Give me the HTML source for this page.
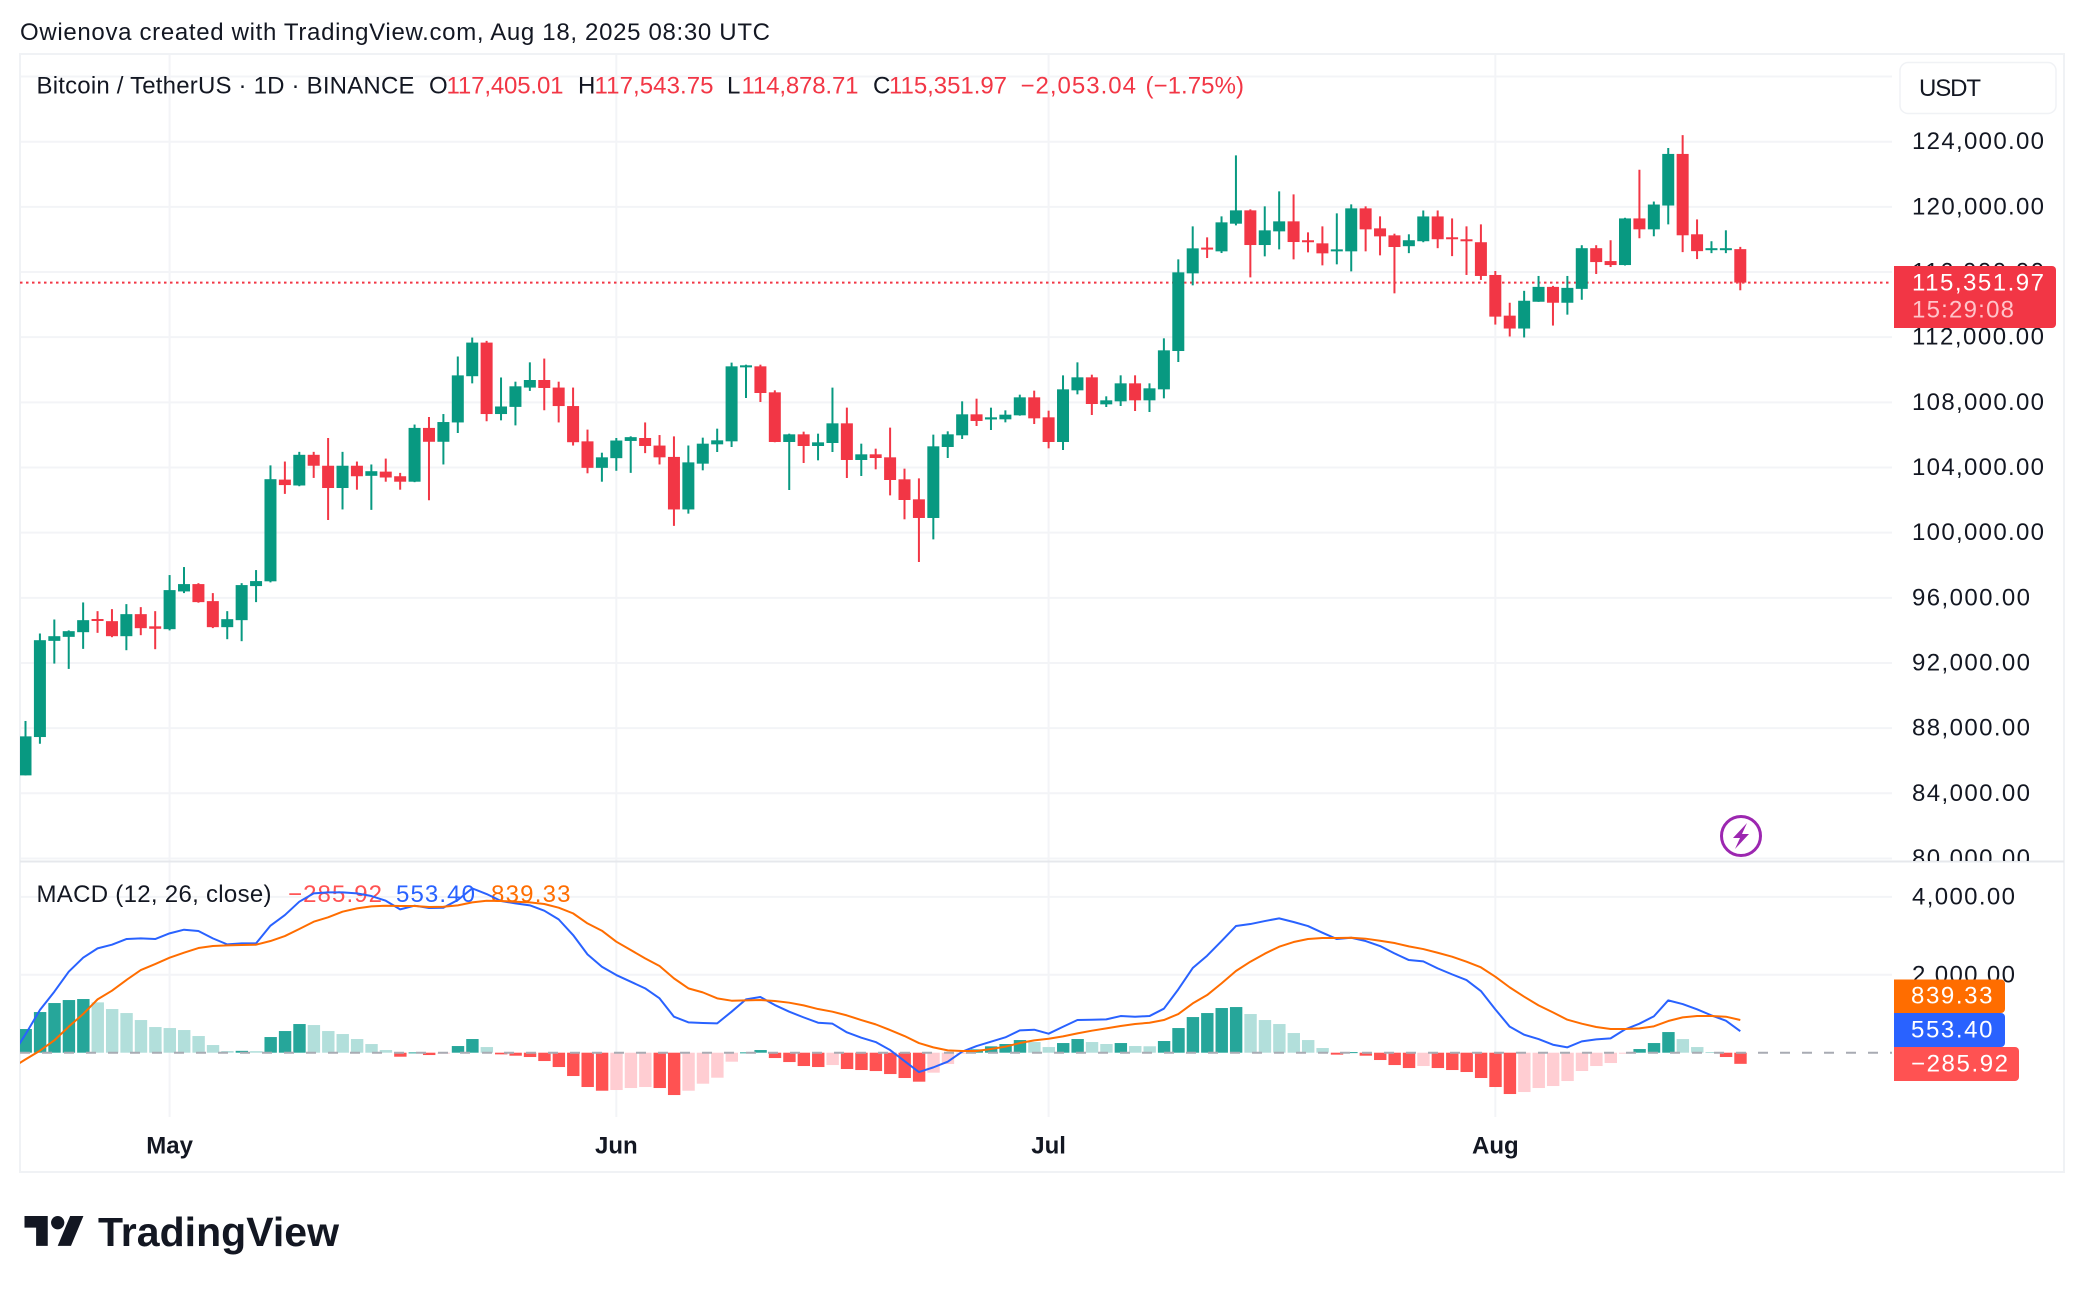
<!DOCTYPE html>
<html lang="en">
<head>
<meta charset="utf-8">
<title>Bitcoin / TetherUS chart</title>
<style>
html,body{margin:0;padding:0;background:#fff;}
body{width:2084px;height:1292px;overflow:hidden;}
svg{display:block;}
text{font-family:"Liberation Sans",sans-serif;font-size:24px;fill:#131722;}
</style>
</head>
<body>
<svg id="chart" xmlns="http://www.w3.org/2000/svg" width="2084" height="1292" viewBox="0 0 2084 1292">
  <defs>
    <clipPath id="plot-clip"><rect x="20" y="54" width="1872" height="807"></rect></clipPath>
    <clipPath id="macd-clip"><rect x="20" y="862" width="1872" height="255"></rect></clipPath>
    <clipPath id="axis-clip"><rect x="1893" y="54" width="171" height="807"></rect></clipPath>
  </defs>
  <rect x="0" y="0" width="2084" height="1292" fill="#ffffff"></rect>
  <text x="20" y="40" textLength="750" lengthAdjust="spacing">Owienova created with TradingView.com, Aug 18, 2025 08:30 UTC</text>

  <g id="grid"></g>
  <rect x="20" y="54" width="2044" height="1118" fill="none" stroke="#f0f2f5" stroke-width="2"></rect>
  <line x1="20" y1="861.5" x2="2064" y2="861.5" stroke="#e6e8ec" stroke-width="2"></line>

  <g id="macd-hist" clip-path="url(#macd-clip)"></g>
  <line id="zero-line" x1="20" x2="1892" stroke="#a8abb3" stroke-width="2" stroke-dasharray="10 12"></line>

  <g>
    <text x="36.5" y="902" textLength="235" lengthAdjust="spacing">MACD (12, 26, close)</text>
    <text x="288" y="902" textLength="94" lengthAdjust="spacing" style="fill:#FF5252">−285.92</text>
    <text x="396" y="902" textLength="79" lengthAdjust="spacing" style="fill:#2962FF">553.40</text>
    <text x="491" y="902" textLength="79.5" lengthAdjust="spacing" style="fill:#FF6D00">839.33</text>
  </g>

  <g id="macd-lines" clip-path="url(#macd-clip)"></g>

  <line id="price-line" x1="20" x2="1890" stroke="#F23645" stroke-width="2" stroke-dasharray="2.5 3.5"></line>
  <g id="candles" clip-path="url(#plot-clip)"></g>

  <g>
    <text x="36.5" y="93.5" textLength="378" lengthAdjust="spacing">Bitcoin / TetherUS · 1D · BINANCE</text>
    <text x="429" y="93.5">O</text>
    <text x="446.5" y="93.5" textLength="117" lengthAdjust="spacing" style="fill:#F23645">117,405.01</text>
    <text x="578" y="93.5">H</text>
    <text x="594.5" y="93.5" textLength="119" lengthAdjust="spacing" style="fill:#F23645">117,543.75</text>
    <text x="727" y="93.5">L</text>
    <text x="741.5" y="93.5" textLength="117" lengthAdjust="spacing" style="fill:#F23645">114,878.71</text>
    <text x="873" y="93.5">C</text>
    <text x="889" y="93.5" textLength="118" lengthAdjust="spacing" style="fill:#F23645">115,351.97</text>
    <text x="1020.5" y="93.5" textLength="115.5" lengthAdjust="spacing" style="fill:#F23645">−2,053.04</text>
    <text x="1145.5" y="93.5" textLength="98.5" lengthAdjust="spacing" style="fill:#F23645">(−1.75%)</text>
  </g>

  <g id="price-axis" clip-path="url(#axis-clip)"></g>
  <g id="macd-axis"></g>
  <g id="time-axis"></g>

  <g>
    <rect x="1900" y="62.5" width="156" height="51" rx="8" fill="#ffffff" stroke="#f0f2f5" stroke-width="1.5"></rect>
    <text x="1919" y="96" textLength="62" lengthAdjust="spacing">USDT</text>
  </g>

  <g>
    <path d="M1894 266H2052a4 4 0 0 1 4 4V324a4 4 0 0 1 -4 4H1894Z" fill="#F23645"></path>
    <text x="1912" y="290.5" textLength="132" lengthAdjust="spacing" style="fill:#ffffff">115,351.97</text>
    <text x="1912" y="317.5" textLength="102" lengthAdjust="spacing" style="fill:#ffc4ca">15:29:08</text>
  </g>

  <g>
    <path d="M1894 979.5H2001a4 4 0 0 1 4 4V1009a4 4 0 0 1 -4 4H1894Z" fill="#FF6D00"></path>
    <text x="1911" y="1003.5" textLength="81.5" lengthAdjust="spacing" style="fill:#ffffff">839.33</text>
    <path d="M1894 1013H2001a4 4 0 0 1 4 4V1043a4 4 0 0 1 -4 4H1894Z" fill="#2962FF"></path>
    <text x="1911" y="1037.5" textLength="81.5" lengthAdjust="spacing" style="fill:#ffffff">553.40</text>
    <path d="M1894 1047H2015a4 4 0 0 1 4 4V1077a4 4 0 0 1 -4 4H1894Z" fill="#FF5252"></path>
    <text x="1911" y="1071.5" textLength="97" lengthAdjust="spacing" style="fill:#ffffff">−285.92</text>
  </g>

  <g>
    <circle cx="1741" cy="836" r="19.5" fill="#ffffff" stroke="#9C27B0" stroke-width="3"></circle>
    <path d="M1747 823L1733 838H1740L1735 849L1749 834H1742Z" fill="#9C27B0"></path>
  </g>

  <g>
    <g transform="translate(24.5 1209.4) scale(1.66)" fill="#131722">
      <path d="M14 22H7V11H0V4h14v18zM28 22h-8l7.5-18h8L28 22z"></path>
      <circle cx="20" cy="8" r="4"></circle>
    </g>
    <text x="98" y="1246" textLength="241" lengthAdjust="spacing" style="font-size:41px;font-weight:bold">TradingView</text>
  </g>
</svg>

<script>
const categories = ['04-20','04-21','04-22','04-23','04-24','04-25','04-26','04-27','04-28','04-29','04-30',
'05-01','05-02','05-03','05-04','05-05','05-06','05-07','05-08','05-09','05-10','05-11','05-12','05-13','05-14','05-15','05-16','05-17','05-18','05-19','05-20','05-21','05-22','05-23','05-24','05-25','05-26','05-27','05-28','05-29','05-30','05-31',
'06-01','06-02','06-03','06-04','06-05','06-06','06-07','06-08','06-09','06-10','06-11','06-12','06-13','06-14','06-15','06-16','06-17','06-18','06-19','06-20','06-21','06-22','06-23','06-24','06-25','06-26','06-27','06-28','06-29','06-30',
'07-01','07-02','07-03','07-04','07-05','07-06','07-07','07-08','07-09','07-10','07-11','07-12','07-13','07-14','07-15','07-16','07-17','07-18','07-19','07-20','07-21','07-22','07-23','07-24','07-25','07-26','07-27','07-28','07-29','07-30','07-31',
'08-01','08-02','08-03','08-04','08-05','08-06','08-07','08-08','08-09','08-10','08-11','08-12','08-13','08-14','08-15','08-16','08-17','08-18'];

const openValues = [84480,
85100,87454,93358,93604,93891,94700,94568,93645,94998,94250,
94076,96392,96843,95798,94199,94629,96720,97013,103257,102896,
104779,104108,102741,104108,103489,103747,103463,103128,106430,105579,
106766,109604,111668,107282,107720,108907,109371,108907,107772,105605,
103979,104573,105630,105811,105347,104650,101425,104236,105422,105606,
110148,110210,108614,105566,106036,105320,105504,106711,104461,104809,
104624,103274,102046,100901,105259,105975,107264,106950,106957,107203,
108307,107080,105566,108737,109535,107877,108061,109166,108123,108798,
111151,115918,117500,117269,118967,119785,117657,118496,119110,117950,
117760,117269,117269,119908,118680,118251,117585,117890,119412,118133,
118010,117829,115819,113322,112531,114175,115088,114114,114966,117463,
116672,116428,119290,118620,120082,123249,118316,117342,117360,117405.01];

const highValues = [85300,
88440,93809,94670,94000,95716,95182,95306,95613,95429,95182,
97397,97889,96900,96290,95182,96900,97704,104134,104366,104960,
104960,105811,104960,104366,104186,104547,103670,106637,107101,107282,
110816,111977,111771,109526,109268,110455,110687,109268,108907,106327,
104908,105811,105914,106766,105992,105914,105347,105832,106384,110435,
110312,110312,108737,106077,106200,106077,108901,107673,105463,105156,
106445,103929,103335,106016,106220,108062,108225,107673,107509,108471,
108717,107489,109658,110455,109698,108369,109658,109658,109166,111929,
116778,118803,118128,119417,123161,119847,120031,120951,120767,118435,
118803,119601,120154,120031,119417,118353,118316,119778,119778,119290,
118803,118925,116063,114114,114845,115758,115149,115758,117646,117646,
117951,119330,122275,120326,123614,124406,119229,117890,118560,117543.75];

const lowValues = [83950,
85097,87044,91964,91636,92866,93850,93583,92784,93707,92846,
94000,96290,95700,94140,93460,93338,95736,96950,102380,102850,
103360,100780,101425,102638,101399,103128,102638,103100,101993,104186,
106121,109165,106843,106895,106585,108701,107514,106766,105347,103644,
103128,103799,103670,104882,104186,100419,101167,103826,104952,105259,
108266,108021,105550,102619,104277,104440,104952,103356,103479,103888,
102292,100819,98200,99591,104583,105750,106548,106302,106772,107180,
106670,105177,105075,108491,107223,107714,107775,107468,107407,108246,
110476,115182,116859,117166,118865,115673,116962,117391,116778,117207,
116409,116471,116041,117269,117023,114691,117159,117829,117463,116976,
115819,115515,112774,112043,111982,114170,112713,113383,114297,115880,
116306,116400,118072,118194,118925,117220,116794,117159,117159,114878.71];

const closeValues = [85180,
87495,93399,93645,93953,94629,94600,93645,94998,94137,94100,
96474,96843,95736,94199,94690,96782,97028,103283,102921,104779,
104108,102741,104108,103463,103773,103386,103128,106430,105579,106791,
109655,111668,107282,107746,108984,109371,108881,107772,105553,103979,
104624,105656,105863,105321,104624,101425,104315,105463,105668,110210,
110272,108573,105566,106036,105320,105545,106711,104461,104809,104583,
103233,102005,100901,105300,106036,107264,106855,107080,107243,108307,
107018,105566,108798,109535,107898,108123,109166,108123,108860,111192,
115980,117453,117380,119049,119785,117657,118558,119110,117841,117830,
117146,117391,119908,118619,118189,117535,117951,119412,118012,118032,
117910,115758,113261,112531,114236,115088,114114,115027,117463,116611,
116428,119290,118620,120143,123249,118255,117281,117463,117463,115351.97];

const histValues = [330,
608,1044,1275,1352,1378,1292,1121,1018,839,659,
633,582,428,197,43,48,40,402,556,736,
710,556,479,351,222,68,-103,8,-60,-20,
171,351,145,-43,-77,-111,-214,-368,-599,-881,
-976,-958,-907,-881,-907,-1087,-976,-796,-642,-231,
9,68,-137,-240,-342,-368,-317,-419,-445,-471,
-548,-650,-744,-513,-291,-25,86,163,223,325,
274,145,248,351,274,223,248,171,165,300,
633,915,1018,1147,1172,993,839,736,505,325,
120,-50,15,-77,-188,-317,-394,-342,-394,-445,
-496,-650,-881,-1061,-1010,-907,-856,-727,-470,-342,
-265,-25,94,248,530,350,145,17,-111,-285.92];

const macdValues = [-100,
470,1095,1566,2080,2439,2679,2773,2918,2935,2918,
3064,3158,3124,2935,2781,2807,2807,3261,3534,3877,
4091,4116,4116,4091,4022,3902,3680,3774,3714,3723,
3920,4219,4074,3894,3834,3783,3646,3423,3021,2525,
2208,1994,1823,1652,1395,924,779,762,753,1053,
1369,1429,1224,1053,907,770,745,522,385,274,
68,-214,-496,-377,-231,26,171,282,394,573,
590,488,667,839,847,856,941,924,941,1130,
1626,2174,2490,2867,3252,3303,3380,3449,3355,3252,
3081,2918,2952,2867,2739,2550,2379,2345,2165,2011,
1866,1583,1113,668,462,351,205,137,291,342,
368,599,745,933,1344,1249,1113,958,822,553.4];

const signalValues = [-400,
-171,51,317,668,993,1369,1592,1866,2122,2276,
2439,2567,2687,2739,2756,2764,2773,2867,2995,3175,
3363,3475,3620,3706,3757,3774,3766,3766,3740,3748,
3783,3860,3902,3894,3877,3860,3817,3723,3577,3320,
3132,2850,2636,2422,2225,1908,1652,1549,1395,1335,
1344,1352,1326,1284,1215,1121,1053,958,839,727,
582,428,248,137,60,43,43,94,154,248,
317,359,419,496,565,625,685,736,770,839,
993,1266,1480,1780,2097,2336,2542,2721,2841,2918,
2944,2944,2952,2927,2875,2816,2730,2661,2567,2465,
2336,2191,1951,1677,1438,1215,1035,847,745,659,
608,608,625,676,813,907,941,941,924,839.33];

const priceTicks = [128000,124000,120000,116000,112000,108000,104000,100000,96000,92000,88000,84000,80000];
const macdTicks = [4000,2000];
const monthLabels = ['May','Jun','Jul','Aug'];
const monthStarts = ['05-01','06-01','07-01','08-01'];
const lastPrice = 115351.97;

const NS = 'http://www.w3.org/2000/svg';
const GREEN = '#089981', RED = '#F23645';

function xScale(i){ return 11.09 + 14.41 * i; }
function priceY(p){ return 141.7 + (124000 - p) * 0.01629; }
function macdY(v){ return 1052.7 - v * 0.03895; }

function mk(parent, tag, attrs, text){
  const el = document.createElementNS(NS, tag);
  for (const k in attrs) el.setAttribute(k, attrs[k]);
  if (text !== undefined) el.textContent = text;
  parent.appendChild(el);
  return el;
}
function fmt(v){
  return v.toLocaleString('en-US',{minimumFractionDigits:2,maximumFractionDigits:2});
}

const grid = document.getElementById('grid');
priceTicks.forEach(function(t){
  const el = mk(grid,'line',{x1:20,x2:1892,y1:priceY(t),y2:priceY(t),stroke:'#f3f4f7','stroke-width':2});
  
  
});
macdTicks.forEach(function(t){
  const el = mk(grid,'line',{x1:20,x2:1892,y1:macdY(t),y2:macdY(t),stroke:'#f3f4f7','stroke-width':2});
  
  
});
monthStarts.forEach(function(m){
  const x = xScale(categories.indexOf(m));
  const el = mk(grid,'line',{x1:x,x2:x,y1:54,y2:1117,stroke:'#f3f4f7','stroke-width':2});
  
  
});

const priceLine = document.getElementById('price-line');
priceLine.setAttribute('y1', priceY(lastPrice));
priceLine.setAttribute('y2', priceY(lastPrice));
const zeroLine = document.getElementById('zero-line');
zeroLine.setAttribute('y1', macdY(0));
zeroLine.setAttribute('y2', macdY(0));

const candlesGroup = document.getElementById('candles');
categories.forEach(function(d,i){
  const o = openValues[i], h = highValues[i], l = lowValues[i], c = closeValues[i];
  const color = c >= o ? GREEN : RED;
  const x = xScale(i);
  const wick = mk(candlesGroup,'line',{x1:x,x2:x,y1:priceY(h),y2:priceY(l),stroke:color,'stroke-width':2});
  
  
  const top = priceY(Math.max(o,c));
  const ht = Math.max(2, Math.abs(priceY(o)-priceY(c)));
  const body = mk(candlesGroup,'rect',{x:x-6,y:top,width:12,height:ht,fill:color});
  
  
});

const histGroup = document.getElementById('macd-hist');
histValues.forEach(function(v,i){
  const prev = i > 0 ? histValues[i-1] : v;
  let color;
  if (v >= 0) color = v >= prev ? '#26A69A' : '#B2DFDB';
  else color = v < prev ? '#FF5252' : '#FFCDD2';
  const y0 = macdY(0), y1 = macdY(v);
  const bar = mk(histGroup,'rect',{x:xScale(i)-6,y:Math.min(y0,y1),width:12.4,height:Math.max(1,Math.abs(y1-y0)),fill:color});
  
  
});

const linesGroup = document.getElementById('macd-lines');
function linePath(vals){
  return vals.map(function(v,i){ return (i?'L':'M') + xScale(i).toFixed(2) + ' ' + macdY(v).toFixed(2); }).join('');
}
const macdLine = mk(linesGroup,'path',{d:linePath(macdValues),fill:'none',stroke:'#2962FF','stroke-width':2,'stroke-linejoin':'round'});


const signalLine = mk(linesGroup,'path',{d:linePath(signalValues),fill:'none',stroke:'#FF6D00','stroke-width':2,'stroke-linejoin':'round'});



const priceAxis = document.getElementById('price-axis');
priceTicks.forEach(function(t){
  const s = fmt(t);
  const len = s.length === 10 ? 132 : 118;
  const el = mk(priceAxis,'text',{x:1912,y:priceY(t)+7.5,textLength:len,lengthAdjust:'spacing'},s);
  
  
});
const macdAxis = document.getElementById('macd-axis');
macdTicks.forEach(function(t){
  const el = mk(macdAxis,'text',{x:1912,y:macdY(t)+7.5,textLength:103,lengthAdjust:'spacing'},fmt(t));
  
  
});
const timeAxis = document.getElementById('time-axis');
monthLabels.forEach(function(label,k){
  const x = xScale(categories.indexOf(monthStarts[k]));
  const el = mk(timeAxis,'text',{x:x,y:1153.5,'text-anchor':'middle',style:'font-weight:bold'},label);
  
  
});
</script>
</body>
</html>
